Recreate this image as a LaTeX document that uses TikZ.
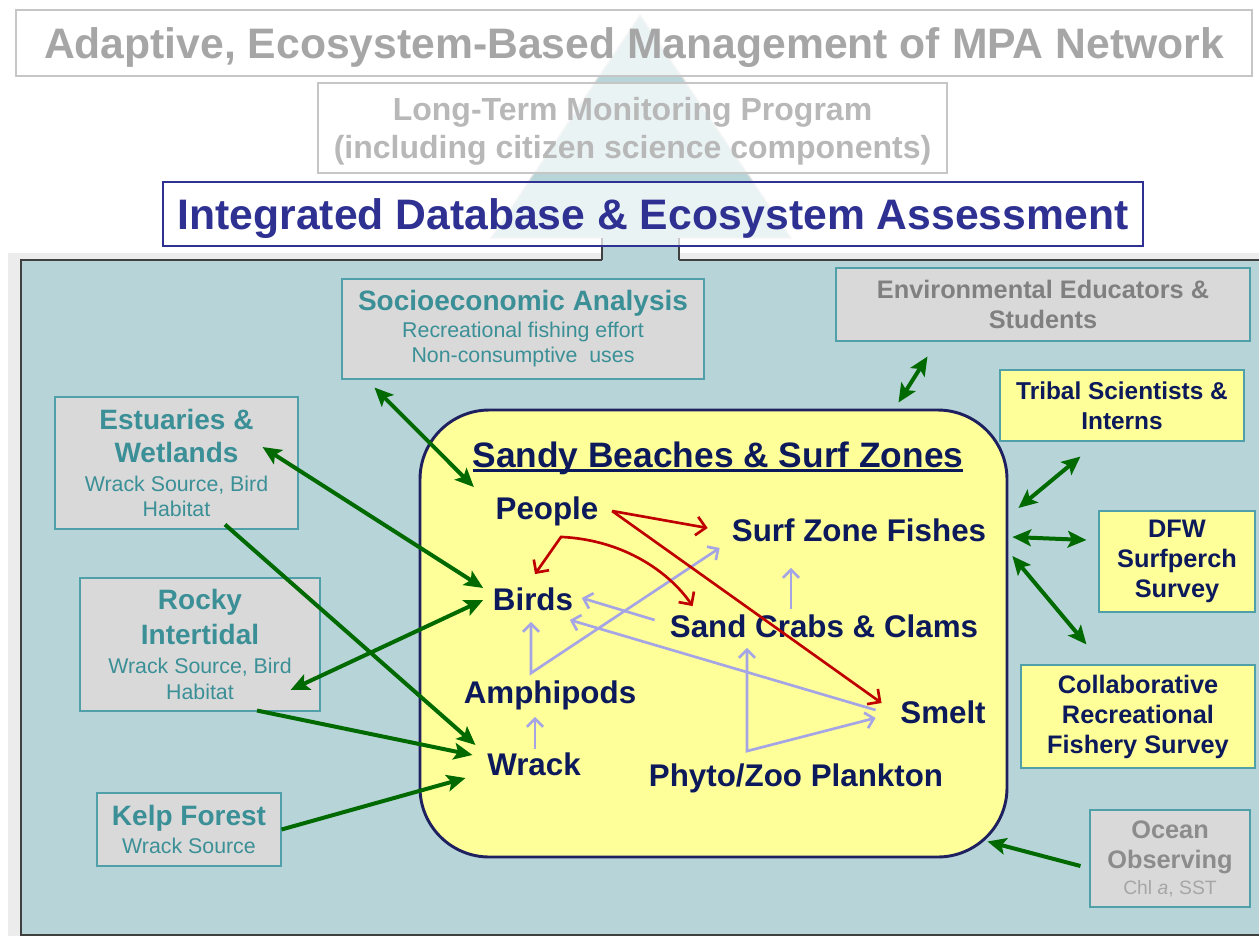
\documentclass[tikz,border=0pt]{standalone}
\usepackage{fontspec}
\setmainfont{Liberation Sans}
\usetikzlibrary{arrows.meta}

\definecolor{panelteal}{HTML}{B7D5D8}
\definecolor{panelrim}{HTML}{404040}
\definecolor{sitegray}{HTML}{D9D9D9}
\definecolor{siteedge}{HTML}{4FA0A8}
\definecolor{sitetext}{HTML}{3B8F96}
\definecolor{beachyellow}{HTML}{FFFF99}
\definecolor{navytext}{HTML}{0C1A5C}
\definecolor{dbblue}{HTML}{2E3192}
\definecolor{zonerim}{HTML}{1F2060}
\definecolor{linkgreen}{HTML}{006A00}
\definecolor{humanred}{HTML}{C00000}
\definecolor{foodlav}{HTML}{A5A5E6}
\definecolor{titlegray}{HTML}{A6A6A6}
\definecolor{monigray}{HTML}{B8B8B8}
\definecolor{envgray}{HTML}{808080}
\definecolor{oceangray}{HTML}{8C8C8C}

\newcommand\boxhead[1]{{\bfseries\fontsize{21}{25}\selectfont #1}}
\newcommand\boxnote[1]{{\fontsize{16}{19}\selectfont #1}}
\newcommand\thickul[1]{\setbox0=\hbox{#1}\hbox{\rlap{\rule[-3.5pt]{\wd0}{2pt}}\box0}}

\tikzset{
  level/.style={draw=gray!45, line width=1pt, fill=white, fill opacity=0.72, text opacity=1, inner sep=0pt, text depth=0pt, align=center},
  site/.style={draw=siteedge, line width=0.8pt, fill=sitegray, text=sitetext, inner sep=0pt, align=center, font=\fontsize{16}{19}\selectfont},
  partner/.style={draw=siteedge, line width=0.8pt, fill=beachyellow, text=navytext, inner sep=0pt, align=center, font=\bfseries\fontsize{19}{22.5}\selectfont},
  taxon/.style={text=navytext, inner sep=0pt, text height=17pt, text depth=5pt, font=\bfseries\fontsize{23.5}{28}\selectfont},
  link/.style={linkgreen, line width=3pt, >={Stealth[length=14pt,width=12.5pt,inset=3pt]}},
  take/.style={humanred, line width=2pt, >={Straight Barb[length=7pt,width=14pt]}},
  feed/.style={foodlav, line width=2pt, >={Straight Barb[length=6pt,width=12pt]}}
}

\begin{document}
\begin{tikzpicture}[x=0.75pt,y=-0.75pt]
	\useasboundingbox (0,0) rectangle (1259,936);
	\clip (0,0) rectangle (1259,936);
	\fill[white] (0,0) rectangle (1259,936);
	\fill[gray!15] (8,253) rectangle (1259,936);
	\draw[fill=panelteal, draw=panelrim, line width=1.5pt] (21,260) rectangle (1275,935);
	
	\fill[panelteal] (602,263) -- (602,238) -- (491,238) -- (640,15) -- (791,238) -- (679,238) -- (679,263) -- cycle;
	\draw[gray!25, line width=1pt] (602,238) -- (491,238) -- (640,15) -- (791,238) -- (679,238);
	\draw[panelrim, line width=1.5pt] (602,260) -- (602,238) (679,238) -- (679,260);
	
	\node[level, minimum width=927pt, minimum height=49.5pt, text=titlegray, font=\bfseries\fontsize{32}{38}\selectfont] (amp) at (634,43) {Adaptive, Ecosystem-Based Management of MPA Network};
	\node[level, minimum width=471.75pt, minimum height=67.5pt, text=monigray, font=\bfseries\fontsize{24}{29}\selectfont] (ltm) at (632.5,128) {Long-Term Monitoring Program\\(including citizen science components)};
	\node[level, draw=dbblue, minimum width=735pt, minimum height=48pt, text=dbblue, font=\bfseries\fontsize{32}{38}\selectfont] (ide) at (653,214) {Integrated Database \& Ecosystem Assessment};
	
	\node[site, minimum width=271.5pt, minimum height=75pt] (soc) at (523,329) {\boxhead{Socioeconomic Analysis}\\[1pt]\boxnote{Recreational fishing effort}\\\boxnote{Non-consumptive\ \ uses}};
	\node[site, minimum width=182.25pt, minimum height=99pt] (est) at (176.5,463) {\boxhead{Estuaries \&}\\[5.5pt]\boxhead{Wetlands}\\[3pt]\boxnote{Wrack Source, Bird}\\\boxnote{Habitat}};
	\node[site, minimum width=180pt, minimum height=99.75pt] (rocky) at (200,644.5) {\boxhead{Rocky}\\[5.5pt]\boxhead{Intertidal}\\[3pt]\boxnote{Wrack Source, Bird}\\\boxnote{Habitat}};
	\node[site, minimum width=138pt, minimum height=54.75pt] (kelp) at (189,829.5) {\boxhead{Kelp Forest}\\[2.5pt]\boxnote{Wrack Source}};
	\node[site, text=envgray, minimum width=310.5pt, minimum height=54.75pt, font=\bfseries\fontsize{19}{23}\selectfont] (env) at (1043,304.5) {Environmental Educators \&\\Students};
	\node[partner, minimum width=183pt, minimum height=53.25pt, font=\bfseries\fontsize{18.3}{22.5}\selectfont] (tribal) at (1122,405.5) {Tribal Scientists \&\\Interns};
	\node[partner, minimum width=117pt, minimum height=75.75pt] (dfw) at (1177,561.5) {DFW\\Surfperch\\Survey};
	\node[partner, minimum width=175.5pt, minimum height=77.25pt] (collab) at (1138,716.5) {Collaborative\\Recreational\\Fishery Survey};
	\node[site, text=oceangray, minimum width=120pt, minimum height=72.75pt, font=\bfseries\fontsize{19}{19.5}\selectfont] (ocean) at (1170,858.5) {Ocean\\[3pt]Observing\\{\mdseries\color{titlegray}\fontsize{14.5}{17}\selectfont Chl \textit{a}, SST}};
	
	\node[draw=zonerim, line width=2.2pt, fill=beachyellow, rounded corners=52pt, minimum width=440.25pt, minimum height=335.25pt] (sandy) at (713.5,633.5) {};
	\node[text=navytext, inner sep=0pt, font=\bfseries\fontsize{26.5}{32}\selectfont] (sbsz) at (718,458) {\thickul{Sandy Beaches \& Surf Zones}};
	
	\node[taxon] (people) at (547,511) {People};
	\node[taxon] (fish) at (859,533) {Surf Zone Fishes};
	\node[taxon] (birds) at (533,602) {Birds};
	\node[taxon] (sand) at (824,629) {Sand Crabs \& Clams};
	\node[taxon] (amph) at (550,695) {Amphipods};
	\node[taxon] (smelt) at (943,715) {Smelt};
	\node[taxon] (wrack) at (534,767) {Wrack};
	\node[taxon] (plank) at (796,778) {Phyto/Zoo Plankton};
	
	\draw[feed, <->] ([shift={(-2,5)}]birds.south) -- ([shift={(-19,-7)}]amph.north) -- ([shift={(-12,0)}]fish.south west);
	\draw[feed, ->] ([shift={(-33,-5)}]sand.north) -- ([shift={(-68,20)}]fish.south);
	\draw[feed, ->] ([shift={(-15,-9)}]sand.west) -- ([shift={(8.5,-4)}]birds.east);
	\draw[feed, ->] ([shift={(-24.5,-5)}]smelt.west) -- ([shift={(-3.5,3)}]birds.south east);
	\draw[feed, ->] ([shift={(1,-3)}]wrack.north) -- ([shift={(-15,7)}]amph.south);
	\draw[feed, <->] ([shift={(-77,4)}]sand.south) -- ([shift={(-49,-12)}]plank.north) -- ([shift={(-24.5,-12)}]smelt.south west);
	
	\draw[take, ->] ([shift={(13.5,0)}]people.east) -- ([shift={(-24,-5)}]fish.west);
	\draw[take, ->] ([shift={(13.5,0)}]people.east) -- ([shift={(-18.5,-12)}]smelt.west);
	\draw[take, <->] ([shift={(2,-13)}]birds.north) -- ([shift={(14,11)}]people.south) .. controls +(65,3) and +(-22,-32) .. ([shift={(23,-8)}]sand.north west);
	
	\draw[link, <->] ([shift={(33,8)}]soc.south west) -- ([shift={(-21.5,-9)}]people.north west);
	\draw[link, <->] ([shift={(-36,-16)}]est.east) -- ([shift={(-9.5,-14)}]birds.west);
	\draw[link, ->] ([shift={(48.5,-5)}]est.south) -- ([shift={(-11.5,-22)}]wrack.west);
	\draw[link, <->] ([shift={(-30,45.5)}]rocky.east) -- ([shift={(-9.5,-2)}]birds.west);
	\draw[link, ->] ([shift={(57,-1)}]rocky.south) -- ([shift={(-14.5,-12)}]wrack.west);
	\draw[link, ->] (kelp.east) -- ([shift={(-21.5,11)}]wrack.west);
	\draw[link, <->] ([shift={(92,15)}]env.south west) -- ([shift={(-110,-6)}]sandy.north east);
	\draw[link, <->] ([shift={(81,15)}]tribal.south west) -- ([shift={(32,-25)}]fish.east);
	\draw[link, <->] ([shift={(-12,-21.5)}]dfw.west) -- ([shift={(26,4)}]fish.east);
	\draw[link, <->] ([shift={(66,-20)}]collab.north west) -- ([shift={(26,23)}]fish.east);
	\draw[link, ->] ([shift={(-9,7.5)}]ocean.west) -- ([shift={(-21,-17)}]sandy.south east);
\end{tikzpicture}
\end{document}
